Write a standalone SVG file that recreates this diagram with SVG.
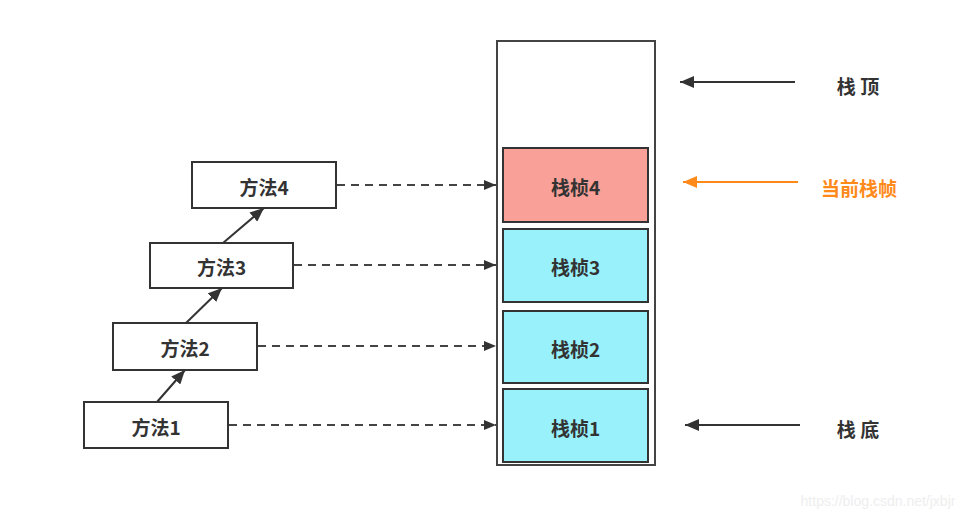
<svg xmlns="http://www.w3.org/2000/svg" width="974" height="524" viewBox="0 0 974 524">
<style>
.m{fill:#fff;stroke:#333;stroke-width:2}
.f{stroke:#333;stroke-width:2}
.t{font-family:"Noto Sans CJK SC","Liberation Sans",sans-serif;font-size:19px;font-weight:600;fill:#333;text-anchor:middle;dominant-baseline:central}
.d{stroke:#444;stroke-width:2;stroke-dasharray:8 6;fill:none}
.s{stroke:#333;stroke-width:2;fill:none}
</style>
<defs>
<marker id="ah" viewBox="0 0 14 12" refX="14" refY="6" markerWidth="7" markerHeight="6" orient="auto" markerUnits="strokeWidth"><path d="M0,0L14,6L0,12z" fill="#333"/></marker>
<marker id="ad" viewBox="0 0 12 10" refX="12" refY="5" markerWidth="6" markerHeight="5" orient="auto" markerUnits="strokeWidth"><path d="M0,0L12,5L0,10z" fill="#333"/></marker>
<marker id="ao" viewBox="0 0 14 12" refX="14" refY="6" markerWidth="7" markerHeight="6" orient="auto" markerUnits="strokeWidth"><path d="M0,0L14,6L0,12z" fill="#FF8A1A"/></marker>
</defs>
<rect width="974" height="524" fill="#fff"/>
<g id="stack"><rect x="497" y="41" width="158" height="424" fill="#fff" stroke="#444" stroke-width="2"/></g>
<g id="frame4"><rect class="f" x="503" y="148" width="145" height="74" fill="#F9A198"/><text class="t" x="575.5" y="186">栈桢4</text></g>
<g id="frame3"><rect class="f" x="503" y="229" width="145" height="73" fill="#99F1FB"/><text class="t" x="575.5" y="266">栈桢3</text></g>
<g id="frame2"><rect class="f" x="503" y="311" width="145" height="72" fill="#99F1FB"/><text class="t" x="575.5" y="348">栈桢2</text></g>
<g id="frame1"><rect class="f" x="503" y="389" width="145" height="73" fill="#99F1FB"/><text class="t" x="575.5" y="427">栈桢1</text></g>
<g id="m4"><rect class="m" x="192" y="162" width="144" height="46"/><text class="t" x="264" y="186">方法4</text></g>
<g id="m3"><rect class="m" x="150" y="243" width="143" height="45"/><text class="t" x="221.5" y="266">方法3</text></g>
<g id="m2"><rect class="m" x="113" y="323" width="144" height="47"/><text class="t" x="185" y="347">方法2</text></g>
<g id="m1"><rect class="m" x="84" y="402" width="144" height="46"/><text class="t" x="156" y="426">方法1</text></g>
<g id="labels">
<text class="t" x="858" y="85">栈 顶</text>
<text class="t" x="859" y="187" style="fill:#FF8A1A">当前栈帧</text>
<text class="t" x="858" y="428">栈 底</text>
<text x="878" y="506" font-family="Liberation Sans,sans-serif" font-size="14" fill="#eeeeee" text-anchor="middle">https://blog.csdn.net/jxbjr</text>
</g>
<g id="connectors">
<line class="d" x1="337" y1="185" x2="496" y2="185" marker-end="url(#ad)"/>
<line class="d" x1="294" y1="265" x2="496" y2="265" marker-end="url(#ad)"/>
<line class="d" x1="258" y1="346" x2="496" y2="346" marker-end="url(#ad)"/>
<line class="d" x1="229" y1="425" x2="496" y2="425" marker-end="url(#ad)"/>
<line class="s" x1="157" y1="402" x2="185" y2="370" marker-end="url(#ah)"/>
<line class="s" x1="186" y1="323" x2="222" y2="288" marker-end="url(#ah)"/>
<line class="s" x1="223" y1="243" x2="264" y2="208" marker-end="url(#ah)"/>
<line class="s" x1="795" y1="82" x2="680" y2="82" marker-end="url(#ah)"/>
<line x1="798" y1="182" x2="683" y2="182" stroke="#FF8A1A" stroke-width="2" marker-end="url(#ao)"/>
<line class="s" x1="800" y1="425" x2="685" y2="425" marker-end="url(#ah)"/>
</g>
</svg>
